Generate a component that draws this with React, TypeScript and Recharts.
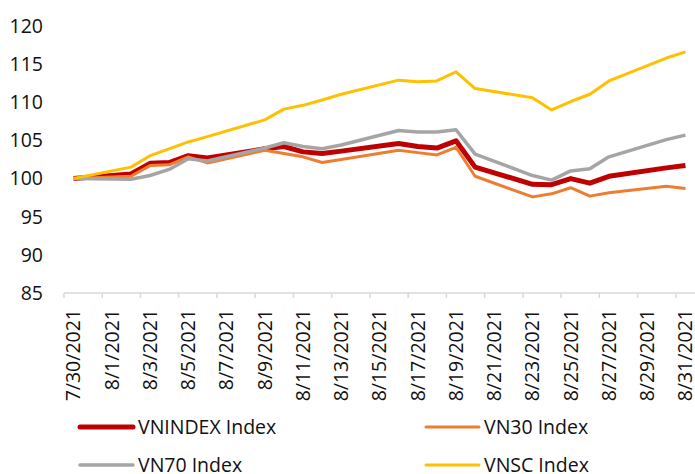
import { Legend, Line, LineChart, XAxis, YAxis } from "recharts"

// trading days shown in the chart (weekends are skipped)
const dates = [
  "7/30/2021", "8/2/2021", "8/3/2021", "8/4/2021", "8/5/2021", "8/6/2021",
  "8/9/2021", "8/10/2021", "8/11/2021", "8/12/2021", "8/13/2021",
  "8/16/2021", "8/17/2021", "8/18/2021", "8/19/2021", "8/20/2021",
  "8/23/2021", "8/24/2021", "8/25/2021", "8/26/2021", "8/27/2021",
  "8/30/2021", "8/31/2021",
]

const vnindex = [100, 100.6, 102.0, 102.1, 103.0, 102.7, 103.9, 104.2, 103.5, 103.3, 103.6, 104.6, 104.2, 104.0, 104.95, 101.5, 99.25, 99.2, 100.0, 99.4, 100.3, 101.4, 101.7]
const vn30 = [100, 100.3, 101.7, 101.8, 102.85, 102.05, 103.7, 103.3, 102.85, 102.1, 102.5, 103.7, 103.4, 103.1, 104.1, 100.3, 97.6, 98.0, 98.8, 97.7, 98.15, 99.0, 98.7]
const vn70 = [100, 99.9, 100.4, 101.2, 102.6, 102.3, 104.0, 104.7, 104.2, 103.9, 104.4, 106.3, 106.1, 106.1, 106.4, 103.2, 100.4, 99.8, 101.0, 101.3, 102.85, 105.1, 105.7]
const vnsc = [100, 101.5, 103.0, 103.9, 104.8, 105.5, 107.7, 109.1, 109.6, 110.3, 111.05, 112.9, 112.7, 112.8, 114.0, 111.8, 110.6, 109.0, 110.1, 111.05, 112.8, 115.8, 116.6]

const tickLabels = [
  "7/30/2021", "8/1/2021", "8/3/2021", "8/5/2021", "8/7/2021", "8/9/2021",
  "8/11/2021", "8/13/2021", "8/15/2021", "8/17/2021", "8/19/2021",
  "8/21/2021", "8/23/2021", "8/25/2021", "8/27/2021", "8/29/2021", "8/31/2021",
]
const yTicks = [85, 90, 95, 100, 105, 110, 115, 120]

const series = [
  { key: "vnindex", name: "VNINDEX Index", color: "#C00000", width: 5 },
  { key: "vn30", name: "VN30 Index", color: "#ED7D31", width: 3 },
  { key: "vn70", name: "VN70 Index", color: "#A5A5A5", width: 3.5 },
  { key: "vnsc", name: "VNSC Index", color: "#FFC000", width: 3 },
]

const FONT = "'Open Sans', sans-serif"
const DAY_MS = 24 * 3600 * 1000

// days since the first date, so the x axis behaves like Excel's date axis
const dayOf = (s: string) => {
  const [m, d, y] = s.split("/").map(Number)
  const start = Date.UTC(2021, 6, 30)
  return Math.round((Date.UTC(y, m - 1, d) - start) / DAY_MS)
}

const chartData = dates.map((d, i) => ({
  day: dayOf(d),
  vnindex: vnindex[i],
  vn30: vn30[i],
  vn70: vn70[i],
  vnsc: vnsc[i],
}))

const tickDays = tickLabels.map(dayOf)
const lastDay = tickDays[tickDays.length - 1]
const PLOT_W = 631
const halfDay = PLOT_W / (lastDay + 1) / 2

const DateTick = (props: any) => {
  const { x, y, payload } = props
  const label = tickLabels[tickDays.indexOf(payload.value)]
  return (
    <g transform={`translate(${x},${y})`}>
      <line x1={-halfDay} x2={-halfDay} y1={0} y2={5} stroke="#D9D9D9" strokeWidth={1.5} />
      <text
        transform="translate(0,16) rotate(-90)"
        textAnchor="end"
        dy="0.35em"
        fill="#111"
        fontSize={19.5}
        fontFamily={FONT}
      >
        {label}
      </text>
    </g>
  )
}

const renderLegend = () => (
  <svg width={695} height={70}>
    {series.map((s, i) => {
      const x0 = i % 2 ? 426 : 80
      const y = i < 2 ? 13 : 51
      return (
        <g key={s.key}>
          <line x1={x0} x2={x0 + 53} y1={y} y2={y} stroke={s.color} strokeWidth={s.width} strokeLinecap="round" />
          <text x={x0 + 58} y={y} dy="0.35em" fontSize={19.5} fontFamily={FONT} fill="#111">
            {s.name}
          </text>
        </g>
      )
    })}
  </svg>
)

export default function App() {
  return (
    <div style={{ position: "absolute", left: 0, top: 0, width: 695, height: 474, overflow: "hidden", background: "#fff" }}>
      <LineChart width={695} height={490} data={chartData} margin={{ top: 26, right: 0, bottom: 6, left: 0 }}>
        <XAxis
          dataKey="day"
          type="number"
          domain={[-0.5, lastDay + 0.5]}
          ticks={tickDays}
          interval={0}
          height={121}
          tick={<DateTick />}
          tickLine={false}
          tickSize={0}
          tickMargin={0}
          axisLine={{ stroke: "#D9D9D9", strokeWidth: 1.5 }}
        />
        <YAxis
          domain={[85, 120]}
          ticks={yTicks}
          interval={0}
          width={64}
          axisLine={false}
          tickLine={false}
          tickSize={0}
          tickMargin={21}
          tick={{ fill: "#111", fontSize: 19.5, fontFamily: FONT }}
        />
        <Legend
          verticalAlign="bottom"
          content={renderLegend}
          wrapperStyle={{ left: 0, width: 695, height: 70 }}
        />
        {series.map((s) => (
          <Line
            key={s.key}
            type="linear"
            dataKey={s.key}
            name={s.name}
            stroke={s.color}
            strokeWidth={s.width}
            strokeLinejoin="round"
            dot={false}
            activeDot={false}
            isAnimationActive={false}
          />
        ))}
      </LineChart>
    </div>
  )
}
